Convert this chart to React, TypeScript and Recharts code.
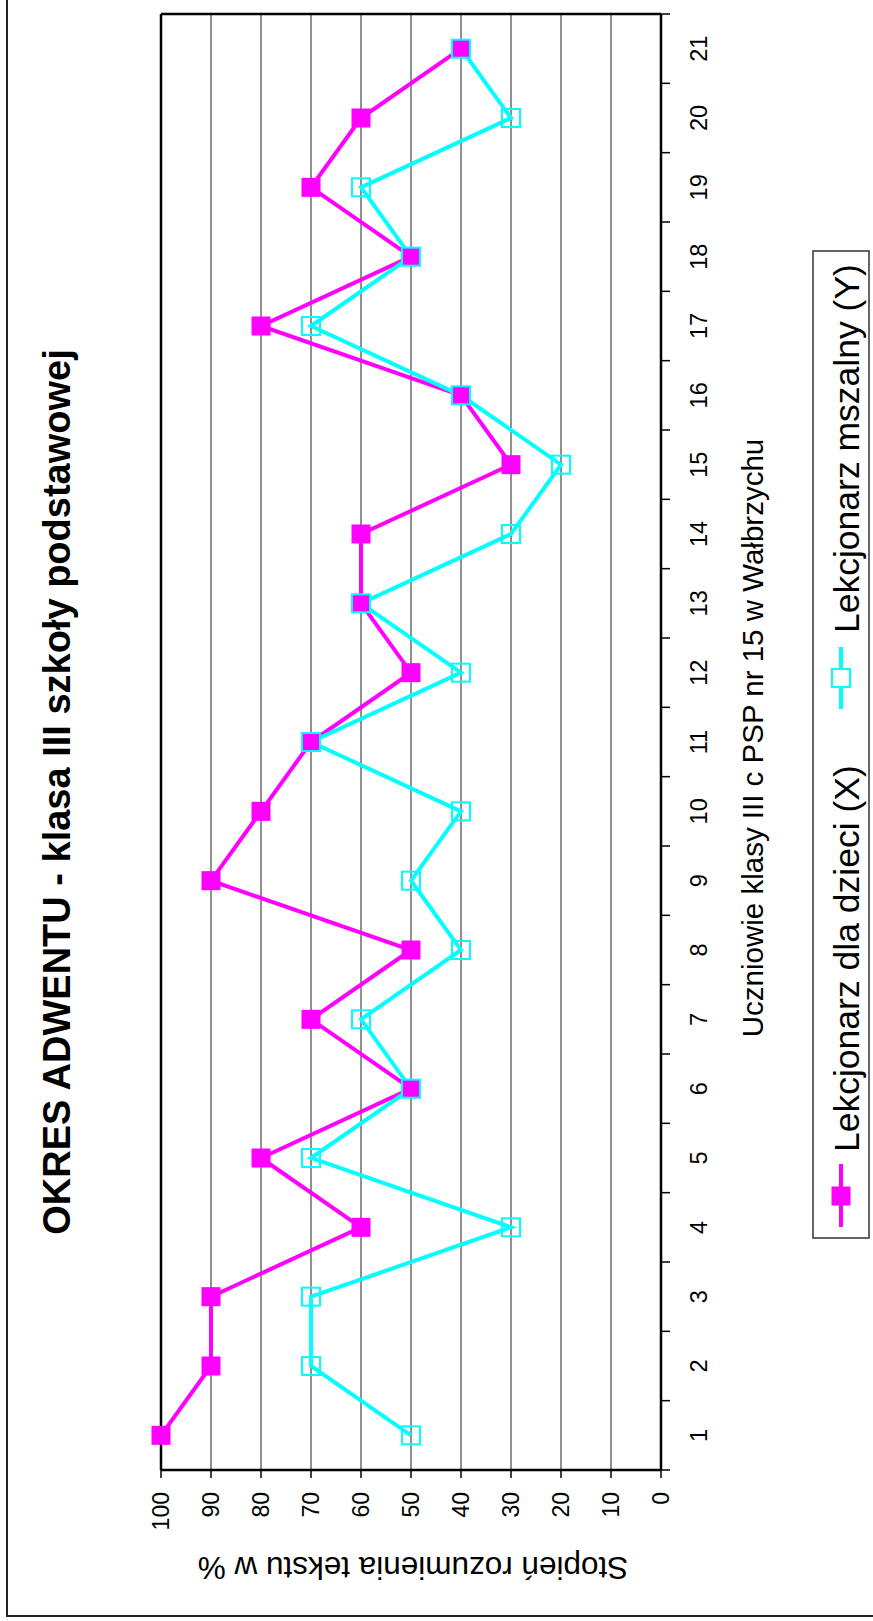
import React from "react";
import { LineChart, Line, XAxis, YAxis, CartesianGrid, ReferenceLine } from "recharts";

const title = "OKRES ADWENTU - klasa III szkoły podstawowej";
const xAxisTitle = "Uczniowie klasy III c PSP nr 15 w Wałbrzychu";
const yAxisTitle = "Stopień rozumienia tekstu w %";
const categories = ["1","2","3","4","5","6","7","8","9","10","11","12","13","14","15","16","17","18","19","20","21"];
const seriesNames = ["Lekcjonarz dla dzieci (X)", "Lekcjonarz mszalny (Y)"];
const seriesX = [100, 90, 90, 60, 80, 50, 70, 50, 90, 80, 70, 50, 60, 60, 30, 40, 80, 50, 70, 60, 40];
const seriesY = [50, 70, 70, 30, 70, 50, 60, 40, 50, 40, 70, 40, 60, 30, 20, 40, 70, 50, 60, 30, 40];
const valueTicks = [0, 10, 20, 30, 40, 50, 60, 70, 80, 90, 100];

const MAGENTA = "#FF00FF";
const CYAN = "#00FFFF";
const FONT = "'Liberation Sans', Arial, sans-serif";

const W = 1621;
const H = 873;
const AXIS_Y = 661;

const data = categories.map((c, i) => ({ idx: i + 1, label: c, x: seriesX[i], y: seriesY[i] }));
const xTicks: number[] = [];
for (let i = 0; i <= categories.length * 2; i++) xTicks.push(0.5 + i * 0.5);

const XTick = (props: any) => {
  const { x, y, payload } = props;
  const v = payload.value as number;
  if (Number.isInteger(v)) {
    return (
      <text x={x} y={y} dy="0.71em" textAnchor="middle" fontSize={23.5} fontFamily={FONT} fill="#000">
        {categories[v - 1]}
      </text>
    );
  }
  return <line x1={x} x2={x} y1={AXIS_Y} y2={AXIS_Y + 9} stroke="#000" strokeWidth={1.5} />;
};

const SquareFilled = (props: any) => {
  const { cx, cy } = props;
  if (cx == null || cy == null) return null;
  return <rect key={`m${props.index}`} x={cx - 9.5} y={cy - 9.5} width={19} height={19} fill={MAGENTA} />;
};
const SquareHollow = (props: any) => {
  const { cx, cy } = props;
  if (cx == null || cy == null) return null;
  return <rect key={`c${props.index}`} x={cx - 9} y={cy - 9} width={18} height={18} fill="none" stroke={CYAN} strokeWidth={2} />;
};

export default function App() {
  return (
    <div style={{ position: "absolute", left: 0, top: 0, width: 873, height: 1621, overflow: "hidden", background: "#fff" }}>
      <div
        style={{
          position: "absolute",
          left: 0,
          top: 0,
          width: W,
          height: H,
          transformOrigin: "0 0",
          transform: `translateY(${W}px) rotate(-90deg)`,
          background: "#fff",
        }}
      >
        <LineChart width={W} height={H} data={data} margin={{ top: 161, right: 14, bottom: 172, left: 91 }}>
          <CartesianGrid horizontal={true} vertical={false} stroke="#222" strokeWidth={1} />
          <XAxis
            dataKey="idx"
            type="number"
            domain={[0.5, 21.5]}
            ticks={xTicks}
            interval={0}
            height={40}
            tickLine={false}
            tickSize={9}
            tickMargin={20}
            tick={XTick}
            axisLine={{ stroke: "#000", strokeWidth: 2.5 }}
          />
          <YAxis
            type="number"
            domain={[0, 100]}
            ticks={valueTicks}
            interval={0}
            width={60}
            tickSize={8}
            tickMargin={14}
            tickLine={{ stroke: "#000", strokeWidth: 1.5 }}
            axisLine={{ stroke: "#000", strokeWidth: 2.5 }}
            tick={{ fontSize: 23, fontFamily: FONT, fill: "#000" }}
          />
          <ReferenceLine y={100} stroke="#000" strokeWidth={2.5} />
          <ReferenceLine x={21.5} stroke="#000" strokeWidth={2.5} />
          <Line
            dataKey="x"
            name={seriesNames[0]}
            type="linear"
            stroke={MAGENTA}
            strokeWidth={4}
            dot={SquareFilled}
            activeDot={false}
            isAnimationActive={false}
          />
          <Line
            dataKey="y"
            name={seriesNames[1]}
            type="linear"
            stroke={CYAN}
            strokeWidth={4}
            dot={SquareHollow}
            activeDot={false}
            isAnimationActive={false}
          />
        </LineChart>
        <svg width={W} height={H} style={{ position: "absolute", left: 0, top: 0, pointerEvents: "none" }}>
          <rect x={5} y={7} width={3000} height={3000} fill="none" stroke="#222" strokeWidth={2} />
          <text x={829} y={70} textAnchor="middle" fontSize={38} fontWeight="bold" fontFamily={FONT} fill="#000">
            {title}
          </text>
          <text x={883} y={763} textAnchor="middle" fontSize={29.5} fontFamily={FONT} fill="#000">
            {xAxisTitle}
          </text>
          <text transform="translate(64,413) rotate(-90)" textAnchor="middle" fontSize={31.5} fontFamily={FONT} fill="#000">
            {yAxisTitle}
          </text>
          {/* legend */}
          <rect x={383} y={813} width={987} height={56} fill="#fff" stroke="#333" strokeWidth={1.5} />
          <line x1={394} x2={457} y1={841} y2={841} stroke={MAGENTA} strokeWidth={4} />
          <rect x={425 - 9.5} y={841 - 9.5} width={19} height={19} fill={MAGENTA} />
          <text x={469} y={859} fontSize={35.5} fontFamily={FONT} fill="#000">{seriesNames[0]}</text>
          <line x1={912} x2={974} y1={841} y2={841} stroke={CYAN} strokeWidth={4} />
          <rect x={943 - 9} y={841 - 9} width={18} height={18} fill="#fff" stroke={CYAN} strokeWidth={2} />
          <text x={988} y={859} fontSize={35.5} fontFamily={FONT} fill="#000">{seriesNames[1]}</text>
        </svg>
      </div>
    </div>
  );
}
